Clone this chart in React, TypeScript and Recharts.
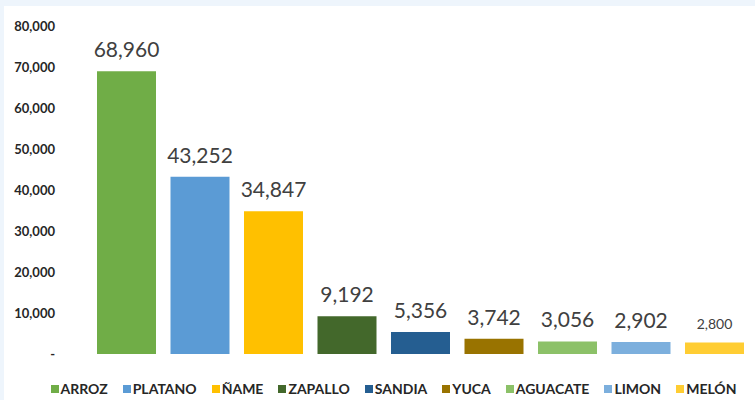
import React from 'react';
import { BarChart, Bar, XAxis, YAxis, Legend, LabelList } from 'recharts';

// one series per crop, like the original spreadsheet chart
const crops = ['ARROZ', 'PLATANO', 'ÑAME', 'ZAPALLO', 'SANDIA', 'YUCA', 'AGUACATE', 'LIMON', 'MELÓN'];
const production = [68960, 43252, 34847, 9192, 5356, 3742, 3056, 2902, 2800];
const colors = ['#70AD47', '#5B9BD5', '#FFC000', '#43682B', '#255E91', '#997300', '#8CC168', '#7CAFDD', '#FFCD33'];
const labelSizes = [21, 21, 21, 21, 21, 21, 21, 21, 14];
const yTicks = [0, 10000, 20000, 30000, 40000, 50000, 60000, 70000, 80000];

const row: Record<string, string | number> = { name: 'total' };
crops.forEach((c, i) => {
  row[c] = production[i];
});
const data = [row];

const fmt = (v: number) => (v === 0 ? '-' : v.toLocaleString('en-US'));

const LegendContent = (props: any) => {
  // keep series order (recharts sorts legend items by name)
  const items = [...(props.payload || [])].sort(
    (a: any, b: any) => crops.indexOf(a.value) - crops.indexOf(b.value)
  );
  return (
    <div
      style={{
        display: 'flex',
        justifyContent: 'center',
        gap: 15,
        paddingTop: 28,
        paddingLeft: 35,
        fontFamily: 'Lato, sans-serif',
        fontWeight: 700,
        fontSize: 14,
        lineHeight: '14px',
        color: '#262626',
      }}
    >
      {items.map((it: any) => (
        <div key={it.value} style={{ display: 'flex', alignItems: 'center' }}>
          <span style={{ width: 8, height: 8, background: it.color, marginRight: 2, display: 'inline-block' }} />
          <span>{it.value}</span>
        </div>
      ))}
    </div>
  );
};

export default function App() {
  return (
    <div style={{ position: 'absolute', left: 0, top: 0, width: 755, height: 400, background: '#EEF5FC' }}>
      <div style={{ position: 'absolute', left: 4, top: 6, width: 751, height: 394, background: '#FFFFFF' }} />
      <div style={{ position: 'absolute', left: 0, top: 0 }}>
        <BarChart
          width={755}
          height={400}
          data={data}
          margin={{ top: 26, right: 3, left: 0, bottom: 0 }}
          barCategoryGap={7}
          barGap={14.5}
        >
          <XAxis dataKey="name" hide />
          <YAxis
            width={90}
            domain={[0, 80000]}
            ticks={yTicks}
            tickFormatter={fmt}
            axisLine={false}
            tickLine={false}
            tickSize={0}
            tickMargin={35}
            tick={{ fontFamily: 'Lato, sans-serif', fontWeight: 700, fontSize: 13, fill: '#262626' }}
          />
          <Legend verticalAlign="bottom" height={46} content={<LegendContent />} />
          {crops.map((c, i) => (
            <Bar key={c} dataKey={c} name={c} fill={colors[i]} isAnimationActive={false}>
              <LabelList
                dataKey={c}
                position="top"
                offset={14}
                formatter={(v: any) => Number(v).toLocaleString('en-US')}
                style={{ fontFamily: 'Lato, sans-serif', fontSize: labelSizes[i], fill: '#404040' }}
              />
            </Bar>
          ))}
        </BarChart>
      </div>
    </div>
  );
}
